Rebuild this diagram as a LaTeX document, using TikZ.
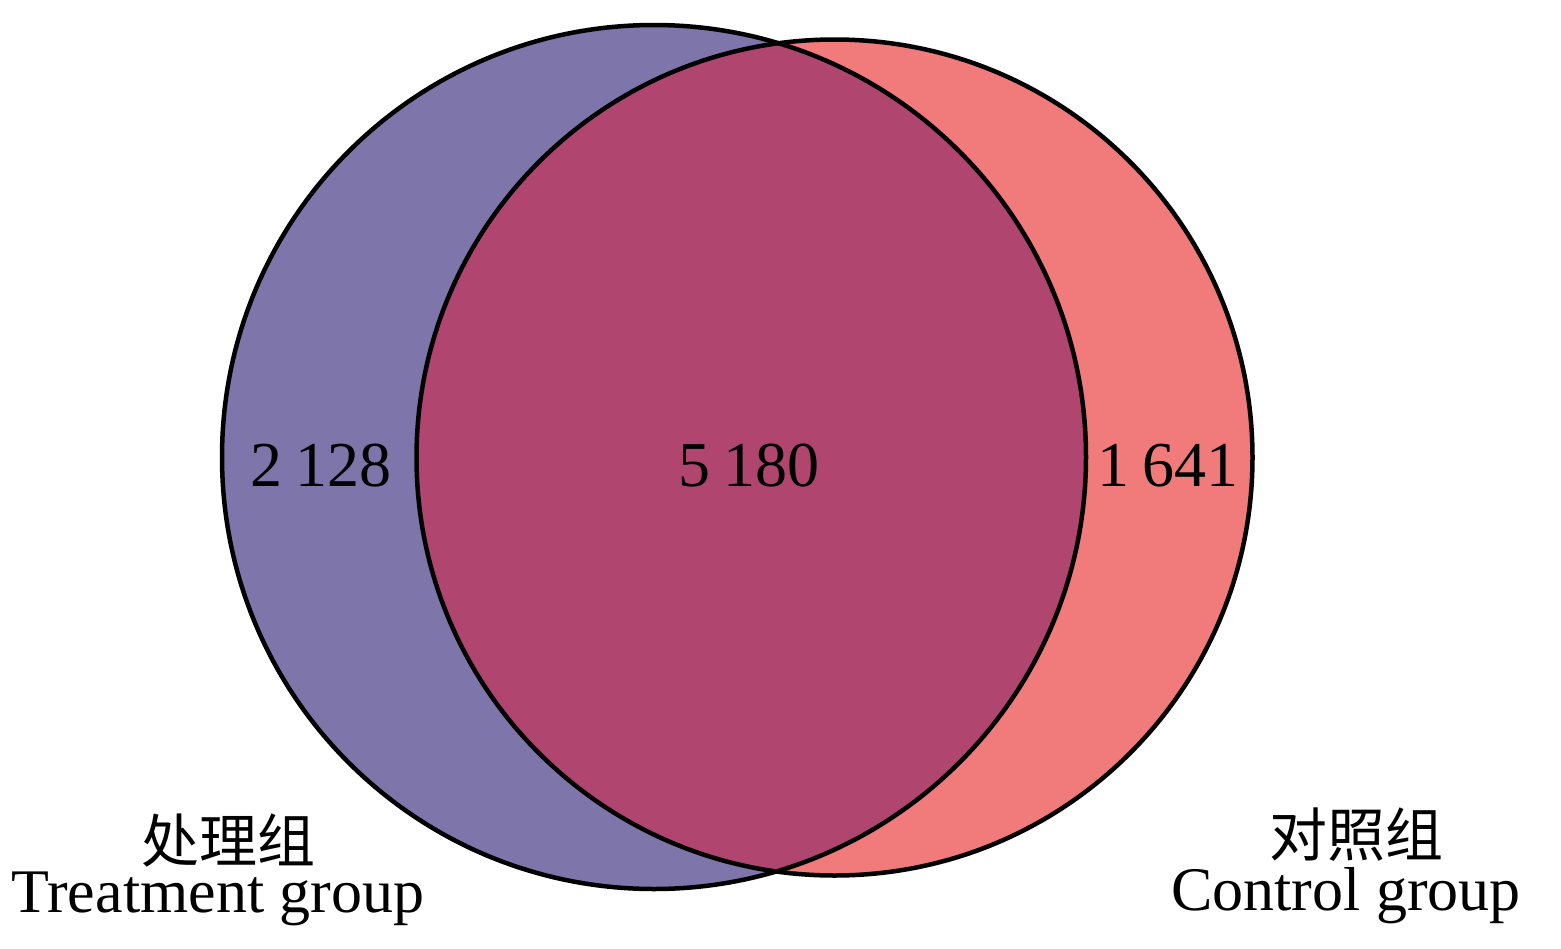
\documentclass[tikz,border=0pt]{standalone}
\usepackage{fontspec}
\setmainfont{Liberation Serif}
\newfontfamily\cjk{Noto Sans CJK SC}
\definecolor{leftfill}{RGB}{126,118,170}
\definecolor{rightfill}{RGB}{240,123,122}
\definecolor{midfill}{RGB}{176,70,112}
\begin{document}
\begin{tikzpicture}[x=1pt,y=-1pt,
  num/.style={font=\fontsize{64}{64}\selectfont, anchor=base, inner sep=0pt},
  lab/.style={font=\fontsize{62}{62}\selectfont, anchor=base, inner sep=0pt},
  cjklab/.style={font=\fontsize{58}{58}\selectfont\cjk, anchor=base, inner sep=0pt},
  outline/.style={draw=black, line width=4.5pt}]
\useasboundingbox (0,0) rectangle (1561,948);
\fill[white] (0,0) rectangle (1561,948);
\coordinate (cl) at (654,457);
\coordinate (cr) at (834.5,457.5);
\fill[leftfill] (cl) circle[radius=432pt];
\fill[rightfill] (cr) circle[radius=418pt];
\begin{scope}
  \clip (cl) circle[radius=432pt];
  \fill[midfill] (cr) circle[radius=418pt];
\end{scope}
\draw[outline] (cl) circle[radius=432pt];
\draw[outline] (cr) circle[radius=418pt];
\node[num] (nl) at (321,486) {2\hspace{0.2em}128};
\node[num] (nm) at (749,486) {5\hspace{0.2em}180};
\node[num] (nr) at (1168,486) {1\hspace{0.2em}641};
\node[cjklab] (tl) at (228,862) {处理组};
\node[lab] (el) at (218,912) {Treatment group};
\node[cjklab] (tr) at (1356,856) {对照组};
\node[lab] (er) at (1346,910) {Control group};
\end{tikzpicture}
\end{document}
